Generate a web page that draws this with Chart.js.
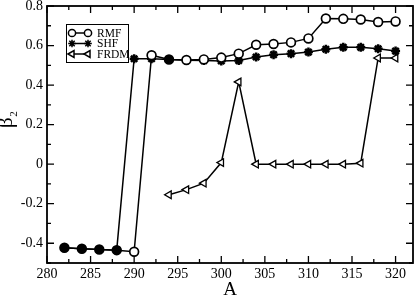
<!DOCTYPE html>
<html><head><meta charset="utf-8">
<script src="https://cdn.jsdelivr.net/npm/chart.js@4/dist/chart.umd.min.js"></script>
<style>html,body{margin:0;padding:0;background:#fff}#wrap{width:415px;height:301px}</style>
</head><body><div id="wrap"><canvas id="c"></canvas></div>
<script>
const rmfA = [282,284,286,288,290,292,294,296,298,300,302,304,306,308,310,312,314,316,318,320];
const rmfB2 = [-0.423,-0.428,-0.432,-0.435,-0.443,0.551,0.529,0.527,0.530,0.539,0.559,0.604,0.608,0.616,0.636,0.737,0.735,0.732,0.719,0.722];
const shfA = [282,284,286,288,290,292,294,296,298,300,302,304,306,308,310,312,314,316,318,320];
const shfB2 = [-0.423,-0.428,-0.432,-0.435,0.533,0.533,0.529,0.526,0.524,0.522,0.524,0.542,0.554,0.559,0.567,0.581,0.591,0.591,0.584,0.572];
const frdmA = [294,296,298,300,302,304,306,308,310,312,314,316,318,320];
const frdmB2 = [-0.155,-0.129,-0.096,0.008,0.416,0,0,0,0,0,0,0.005,0.537,0.537];
const seriesNames = ['RMF','SHF','FRDM'];
const xMajor = [280,285,290,295,300,305,310,315,320];
const xMinor = [282.5,287.5,292.5,297.5,302.5,307.5,312.5,317.5];
const yMajor = [-0.4,-0.2,0,0.2,0.4,0.6,0.8];
const yMinor = [-0.5,-0.3,-0.1,0.1,0.3,0.5,0.7];
const xLabels = ['280','285','290','295','300','305','310','315','320'];
const yLabels = ['-0.4','-0.2','0','0.2','0.4','0.6','0.8'];

const pts = (xs, ys) => xs.map((x,i)=>({x, y: ys[i]}));
const rmfData = pts(rmfA, rmfB2), shfData = pts(shfA, shfB2), frdmData = pts(frdmA, frdmB2);
const overlapsShf = p => shfData.some(q => q.x === p.x && Math.abs(q.y - p.y) < 1e-9);
const SERIF = '"Liberation Serif", "DejaVu Serif", serif';

const frame = {
  id: 'frame',
  afterDraw(chart) {
    const {ctx, chartArea: a, scales: {x, y}} = chart;
    ctx.save();
    ctx.strokeStyle = '#000';
    ctx.lineWidth = 1.8;
    ctx.strokeRect(a.left, a.top, a.right - a.left, a.bottom - a.top);
    ctx.lineWidth = 1.3;
    ctx.beginPath();
    const tx = (v, len) => { const p = x.getPixelForValue(v);
      ctx.moveTo(p, a.bottom); ctx.lineTo(p, a.bottom - len);
      ctx.moveTo(p, a.top); ctx.lineTo(p, a.top + len); };
    const ty = (v, len) => { const p = y.getPixelForValue(v);
      ctx.moveTo(a.left, p); ctx.lineTo(a.left + len, p);
      ctx.moveTo(a.right, p); ctx.lineTo(a.right - len, p); };
    xMajor.forEach(v => tx(v, 7)); xMinor.forEach(v => tx(v, 4));
    yMajor.forEach(v => ty(v, 7)); yMinor.forEach(v => ty(v, 4));
    ctx.stroke();
    // y title beta_2 (rotated)
    ctx.translate(0, 128);
    ctx.rotate(-Math.PI / 2);
    ctx.fillStyle = '#000';
    ctx.textBaseline = 'alphabetic';
    ctx.textAlign = 'left';
    ctx.font = '21px ' + SERIF;
    const w = ctx.measureText('β').width;
    ctx.fillText('β', 0, 12);
    ctx.font = '11px ' + SERIF;
    ctx.fillText('2', w + 0.5, 17);
    ctx.restore();
    // legend
    ctx.save();
    const L = 66, T = 24, W = 62, H = 38;
    ctx.fillStyle = '#fff';
    ctx.fillRect(L, T, W, H);
    ctx.strokeStyle = '#000'; ctx.lineWidth = 1;
    ctx.strokeRect(L + 0.5, T + 0.5, W, H);
    const rows = [33, 43.5, 54];
    chart.data.datasets.forEach((ds, i) => {
      const yy = rows[i], x1 = 72, x2 = 88;
      ctx.strokeStyle = '#000'; ctx.lineWidth = 1.5;
      ctx.beginPath(); ctx.moveTo(x1, yy); ctx.lineTo(x2, yy); ctx.stroke();
      ctx.fillStyle = ds.legendFill;
      [x1, x2].forEach(px => Chart.helpers.drawPoint(ctx, {
        pointStyle: ds.pointStyle, rotation: ds.pointRotation || 0,
        radius: ds.legendRadius, borderWidth: ds.legendBorder
      }, px, yy));
      ctx.fillStyle = '#000';
      ctx.font = '11.5px ' + SERIF;
      ctx.textBaseline = 'middle';
      ctx.fillText(ds.label, 97, yy + 0.5);
    });
    ctx.restore();
  }
};

new Chart(document.getElementById('c'), {
  type: 'line',
  data: { datasets: [
    { label: seriesNames[0], data: rmfData, borderColor: '#000', borderWidth: 1.5,
      pointStyle: 'circle', pointRadius: 4.4, pointBorderWidth: 1.7,
      legendRadius: 3.6, legendBorder: 2, legendFill: '#fff',
      pointBorderColor: '#000',
      pointBackgroundColor: c => (c.raw && overlapsShf(c.raw)) ? '#000' : '#fff' },
    { label: seriesNames[1], data: shfData, borderColor: '#000', borderWidth: 1.5,
      pointStyle: 'star', pointRadius: 4.5, pointBorderWidth: 2.5,
      legendRadius: 3.8, legendBorder: 2.4, legendFill: '#000',
      pointBorderColor: '#000', pointBackgroundColor: '#000' },
    { label: seriesNames[2], data: frdmData, borderColor: '#000', borderWidth: 1.5,
      pointStyle: 'triangle', pointRotation: -90, pointRadius: 4.4, pointBorderWidth: 1.3,
      legendRadius: 4, legendBorder: 1.8, legendFill: '#fff',
      pointBorderColor: '#000', pointBackgroundColor: '#fff' }
  ]},
  options: {
    responsive: true, maintainAspectRatio: false, animation: false,
    layout: { autoPadding: false, padding: { top: 6, right: 2, left: 0, bottom: 0 } },
    plugins: { legend: { display: false }, tooltip: { enabled: false } },
    elements: { line: { tension: 0 } },
    scales: {
      x: { type: 'linear', min: 280, max: 322,
        grid: { display: false, drawTicks: false }, border: { display: false },
        afterBuildTicks: s => { s.ticks = xMajor.map(v => ({ value: v })); },
        afterFit: s => { s.height = 38; s.paddingLeft = 0; s.paddingRight = 0; },
        title: { display: true, text: 'A', font: { family: SERIF, size: 19 }, color: '#000', padding: { top: 0, bottom: 0 } },
        ticks: { color: '#000', font: { family: SERIF, size: 14 }, padding: 3, maxRotation: 0,
          callback: (v) => { const i = xMajor.indexOf(v); return i >= 0 ? xLabels[i] : ''; } } },
      y: { type: 'linear', min: -0.5, max: 0.8,
        grid: { display: false, drawTicks: false }, border: { display: false },
        afterBuildTicks: s => { s.ticks = yMajor.map(v => ({ value: v })); },
        afterFit: s => { s.width = 47; s.paddingTop = 0; s.paddingBottom = 0; },
        ticks: { color: '#000', font: { family: SERIF, size: 14 }, padding: 4,
          callback: (v) => { const i = yMajor.findIndex(t => Math.abs(t - v) < 1e-9); return i >= 0 ? yLabels[i] : ''; } } }
    }
  },
  plugins: [frame]
});
</script></body></html>
